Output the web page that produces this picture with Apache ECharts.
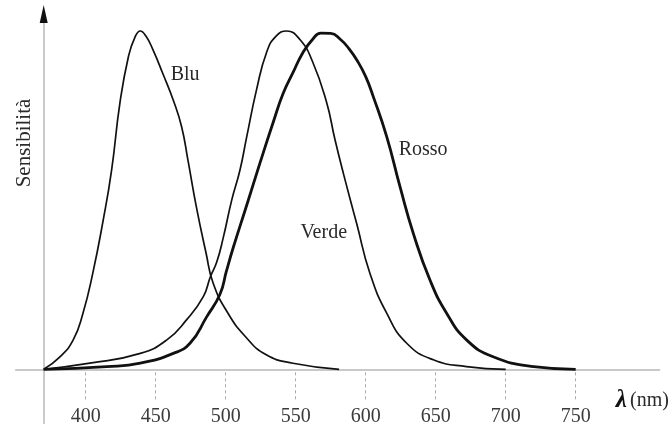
<!DOCTYPE html>
<html>
<head>
<meta charset="utf-8">
<script src="https://cdn.jsdelivr.net/npm/echarts@6/dist/echarts.min.js"></script>
<style>
  html, body { margin: 0; padding: 0; background: #fff; }
  #chart { width: 669px; height: 425px; }
</style>
</head>
<body>
<div id="chart"></div>
<script>
// wavelengths (nm) and relative sensitivity
const bluNm = [370, 381.6, 391, 398, 405, 412.5, 418.5, 424.5, 430.5, 435, 439, 443, 448, 455, 462.5, 468.5, 473, 479, 486, 491, 501, 514, 529, 548, 581]
const bluVal = [0, 0.037, 0.086, 0.165, 0.283, 0.441, 0.589, 0.789, 0.924, 0.98, 1.0, 0.985, 0.945, 0.875, 0.796, 0.717, 0.619, 0.481, 0.343, 0.255, 0.17, 0.097, 0.043, 0.018, 0]

const verdeNm = [370, 403, 439, 458, 472, 484, 489, 493.6, 498.3, 504.3, 510.2, 515, 522, 529.3, 536, 543.6, 553, 562, 572, 578, 584, 593.6, 603, 615, 629.3, 648.3, 672, 700]
const verdeVal = [0, 0.018, 0.047, 0.087, 0.146, 0.215, 0.273, 0.317, 0.39, 0.5, 0.589, 0.687, 0.826, 0.938, 0.985, 1.0, 0.975, 0.91, 0.79, 0.68, 0.58, 0.43, 0.284, 0.166, 0.077, 0.028, 0.008, 0]

const rossoNm = [370, 415, 439, 462.6, 474.5, 486.4, 495.9, 500.5, 505.4, 515, 524.5, 534, 541, 548.3, 555, 562, 568, 575, 582, 588, 594, 600, 605.4, 615, 624.5, 634, 645.9, 657.9, 672, 691, 720, 750]
const rossoVal = [0, 0.008, 0.018, 0.047, 0.077, 0.155, 0.222, 0.29, 0.36, 0.485, 0.61, 0.731, 0.815, 0.879, 0.935, 0.975, 0.994, 0.993, 0.975, 0.948, 0.912, 0.865, 0.806, 0.688, 0.54, 0.402, 0.264, 0.165, 0.087, 0.037, 0.008, 0]

const tickNm = [400, 450, 500, 550, 600, 650, 700, 750]

// where the curve names sit, in data units
const curveLabels = [
  { name: 'Blu', coord: [471, 0.87] },
  { name: 'Verde', coord: [570, 0.403] },
  { name: 'Rosso', coord: [641, 0.648] }
]

// the vertical axis stands at 370 nm and runs a little below zero
const yAxisAt = 370
const yAxisSpan = [-0.16, 1.05]

const serif = '"Liberation Serif", "DejaVu Serif", serif'
const ink = '#111'
const axisGrey = '#b8b8b8'

const pairs = (xs, ys) => xs.map((x, i) => [x, ys[i]])

const chart = echarts.init(document.getElementById('chart'))

const curve = (name, xs, ys, width, extra) => ({
  name,
  type: 'line',
  data: pairs(xs, ys),
  smooth: 0.5,
  showSymbol: false,
  silent: true,
  clip: false,
  lineStyle: { color: ink, width },
  z: 3,
  ...extra
})

// curve names and the two arrowheads
const marks = [
  ...curveLabels.map(l => ({
    coord: l.coord,
    symbol: 'circle',
    symbolSize: 1,
    itemStyle: { color: 'rgba(0,0,0,0)' },
    label: {
      show: true,
      formatter: l.name,
      color: '#2a2a2a',
      fontFamily: serif,
      fontSize: 20,
      position: 'inside'
    }
  })),
  {
    coord: [813, 0],
    symbol: 'triangle',
    symbolSize: [8, 13],
    symbolRotate: -90,
    itemStyle: { color: ink },
    label: { show: false }
  },
  {
    coord: [yAxisAt, yAxisSpan[1]],
    symbol: 'triangle',
    symbolSize: [8, 18],
    itemStyle: { color: ink },
    label: { show: false }
  }
]

const xMin = 350
const xMax = 810
const pxPerNm = 1.4
const gridLeft = 15.7

const option = {
  backgroundColor: '#fff',
  animation: false,
  grid: [
    {
      left: gridLeft,
      right: 9.3,
      top: 14.1,
      bottom: 55.7,
      outerBoundsMode: 'none'
    },
    {
      // only carries the long vertical axis line
      left: gridLeft,
      right: 9.3,
      top: 14.1,
      bottom: 1.6,
      outerBoundsMode: 'none'
    }
  ],
  xAxis: [
    {
      type: 'value',
      gridIndex: 0,
      min: xMin,
      max: xMax,
      axisLine: {
        lineStyle: { color: axisGrey, width: 1.5 }
      },
      axisTick: {
        customValues: tickNm,
        length: 31,
        lineStyle: { color: '#aaa', width: 1, type: [3, 3], dashOffset: 3 }
      },
      axisLabel: {
        customValues: tickNm,
        margin: 40,
        lineHeight: 14,
        color: '#3a3a3a',
        fontFamily: serif,
        fontSize: 20,
        hideOverlap: false
      },
      splitLine: { show: false }
    },
    {
      type: 'value',
      gridIndex: 1,
      min: xMin,
      max: xMax,
      show: false
    }
  ],
  yAxis: [
    {
      type: 'value',
      gridIndex: 0,
      min: 0,
      max: yAxisSpan[1],
      axisLine: { show: false },
      axisTick: { show: false },
      axisLabel: { show: false },
      splitLine: { show: false }
    },
    {
      type: 'value',
      gridIndex: 1,
      min: yAxisSpan[0],
      max: yAxisSpan[1],
      offset: -(yAxisAt - xMin) * pxPerNm,
      axisLine: {
        show: true,
        onZero: false,
        lineStyle: { color: axisGrey, width: 1.5 }
      },
      axisTick: { show: false },
      axisLabel: { show: false },
      splitLine: { show: false }
    }
  ],
  series: [
    curve('Blu', bluNm, bluVal, 1.7),
    curve('Verde', verdeNm, verdeVal, 1.7),
    curve('Rosso', rossoNm, rossoVal, 2.8, {
      markPoint: { silent: true, animation: false, data: marks }
    })
  ],
  graphic: [
    {
      type: 'text',
      x: 24,
      y: 143,
      rotation: Math.PI / 2,
      style: {
        text: 'Sensibilità',
        fill: '#2a2a2a',
        font: '21px ' + serif,
        align: 'center',
        verticalAlign: 'middle'
      }
    },
    {
      type: 'text',
      right: 0,
      top: 388,
      style: {
        text: '{l|λ} {n|(nm)}',
        rich: {
          l: { fontFamily: serif, fontStyle: 'italic', fontWeight: 'bold', fontSize: 25, fill: '#111' },
          n: { fontFamily: serif, fontSize: 20, fill: '#2a2a2a' }
        }
      }
    }
  ]
}

chart.setOption(option)

window.addEventListener('resize', () => chart.resize())
</script>
</body>
</html>
